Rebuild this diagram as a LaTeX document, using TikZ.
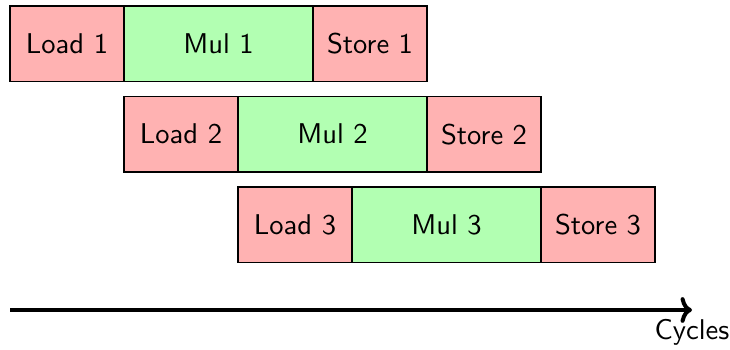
\documentclass[tikz,border=0pt]{standalone}
\usetikzlibrary{arrows.meta}
\begin{document}
\begin{tikzpicture}[x=0.35pt,y=-0.35pt,
  font=\sffamily,
  stage/.style={draw=black, line width=0.6pt, inner sep=0pt, outer sep=0pt,
    anchor=north west, minimum height=75.5*0.35pt},
  memstage/.style={stage, fill=red!30, minimum width=114*0.35pt},
  mulstage/.style={stage, fill=green!30, minimum width=189*0.35pt},
  timeline/.style={line width=1.4pt, -{To[length=4pt,width=9pt]}}]
\useasboundingbox (0,0) rectangle (730,350);
\foreach \i in {1,2,3} {
  \pgfmathsetmacro{\xo}{10+114*(\i-1)}
  \pgfmathsetmacro{\yo}{6+90.5*(\i-1)}
  \node[memstage] (load\i) at (\xo,\yo) {Load \i};
  \node[mulstage] (mul\i) at (load\i.north east) {Mul \i};
  \node[memstage] (store\i) at (mul\i.north east) {Store \i};
}
\coordinate (t0) at (10,310);
\coordinate (t1) at (692,310);
\draw[timeline] (t0) -- (t1);
\node[below=2pt, inner sep=1pt] (cycles) at (t1) {Cycles};
\end{tikzpicture}
\end{document}
